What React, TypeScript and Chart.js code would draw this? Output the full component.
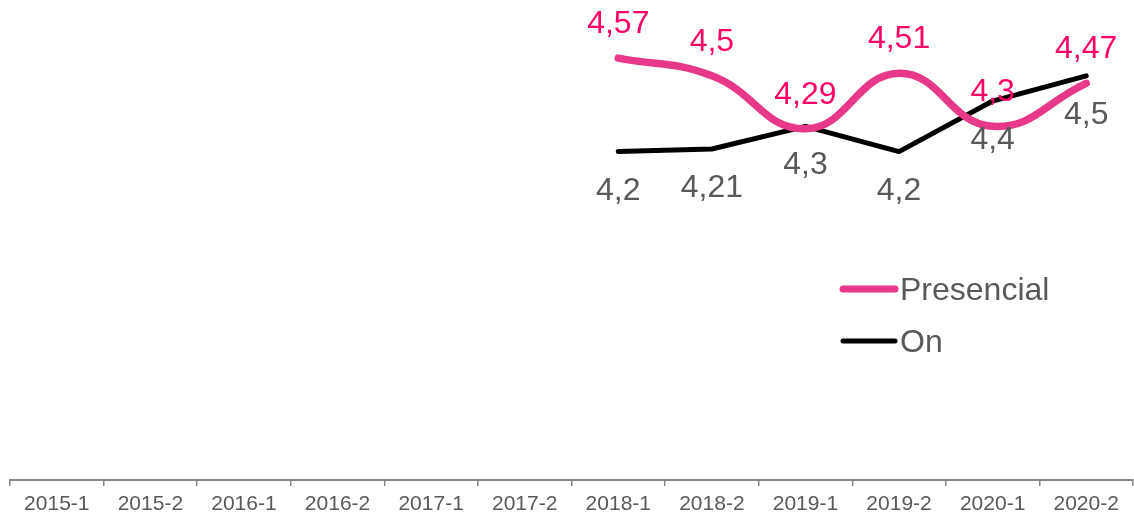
import React, { useEffect, useRef } from "react";
import { Chart, registerables } from "chart.js";

Chart.register(...registerables);

const categories = [
  "2015-1", "2015-2", "2016-1", "2016-2", "2017-1", "2017-2",
  "2018-1", "2018-2", "2019-1", "2019-2", "2020-1", "2020-2",
];
const presencialValues: (number | null)[] = [null, null, null, null, null, null, 4.57, 4.5, 4.29, 4.51, 4.3, 4.47];
const onValues: (number | null)[] = [null, null, null, null, null, null, 4.2, 4.21, 4.3, 4.2, 4.4, 4.5];
const seriesNames = ["Presencial", "On"];

const PINK = "#E8388A";
const PINK_LABEL = "#FF0066";
const GREY_TEXT = "#595959";
const FONT = "'Liberation Sans', Arial, sans-serif";

const fmt = (v: number) => String(v).replace(".", ",");

const dataLabelPlugin = {
  id: "dataLabels",
  afterDatasetsDraw(chart: any) {
    const ctx = chart.ctx;
    ctx.save();
    ctx.font = `32px ${FONT}`;
    ctx.textAlign = "center";
    ctx.textBaseline = "alphabetic";
    chart.data.datasets.forEach((ds: any, i: number) => {
      const meta = chart.getDatasetMeta(i);
      meta.data.forEach((pt: any, j: number) => {
        const v = ds.data[j];
        if (v == null) return;
        ctx.fillStyle = i === 0 ? PINK_LABEL : GREY_TEXT;
        const dy = i === 0 ? -25 : 48;
        ctx.fillText(fmt(v), pt.x, pt.y + dy);
      });
    });
    ctx.restore();
  },
};

const legendPlugin = {
  id: "customLegend",
  afterDraw(chart: any) {
    const ctx = chart.ctx;
    ctx.save();
    ctx.font = `32px ${FONT}`;
    ctx.textAlign = "left";
    ctx.textBaseline = "alphabetic";
    const items = [
      { y: 289, w: 7 },
      { y: 341, w: 5 },
    ];
    chart.data.datasets.forEach((ds: any, i: number) => {
      const it = items[i];
      ctx.strokeStyle = ds.borderColor;
      ctx.lineWidth = it.w;
      ctx.lineCap = "round";
      ctx.beginPath();
      ctx.moveTo(843, it.y);
      ctx.lineTo(895, it.y);
      ctx.stroke();
      ctx.fillStyle = GREY_TEXT;
      ctx.fillText(ds.label, 900, it.y + 11);
    });
    ctx.restore();
  },
};

export default function App() {
  const ref = useRef<HTMLCanvasElement | null>(null);
  useEffect(() => {
    if (!ref.current) return;
    const chart = new Chart(ref.current, {
      type: "line",
      data: {
        labels: categories,
        datasets: [
          {
            label: seriesNames[0],
            data: presencialValues,
            borderColor: PINK,
            borderWidth: 7.5,
            borderCapStyle: "round",
            borderJoinStyle: "round",
            tension: 0.45,
            pointRadius: 0,
            fill: false,
            spanGaps: false,
          },
          {
            label: seriesNames[1],
            data: onValues,
            borderColor: "#000000",
            borderWidth: 5,
            borderCapStyle: "round",
            borderJoinStyle: "round",
            tension: 0,
            pointRadius: 0,
            fill: false,
          },
        ],
      },
      options: {
        animation: false,
        responsive: true,
        maintainAspectRatio: false,
        layout: { padding: { left: 10, right: 1, top: 0, bottom: 0 } },
        plugins: {
          legend: { display: false },
          tooltip: { enabled: false },
        },
        scales: {
          x: {
            offset: true,
            grid: {
              offset: true,
              drawOnChartArea: false,
              drawTicks: true,
              tickLength: 6,
              color: "#868686",
              lineWidth: 1.5,
            },
            border: { display: true, color: "#868686", width: 2 },
            ticks: {
              color: GREY_TEXT,
              font: { family: FONT, size: 21 },
              padding: 6,
              maxRotation: 0,
              autoSkip: false,
            },
            afterFit(scale: any) {
              scale.height = 37;
            },
          },
          y: {
            display: false,
            min: 2.9,
            max: 4.8,
          },
        },
      },
      plugins: [dataLabelPlugin, legendPlugin],
    });
    return () => chart.destroy();
  }, []);
  return (
    <div style={{ position: "absolute", left: 0, top: 0, width: 1134, height: 517, background: "#fff" }}>
      <canvas ref={ref} />
    </div>
  );
}
